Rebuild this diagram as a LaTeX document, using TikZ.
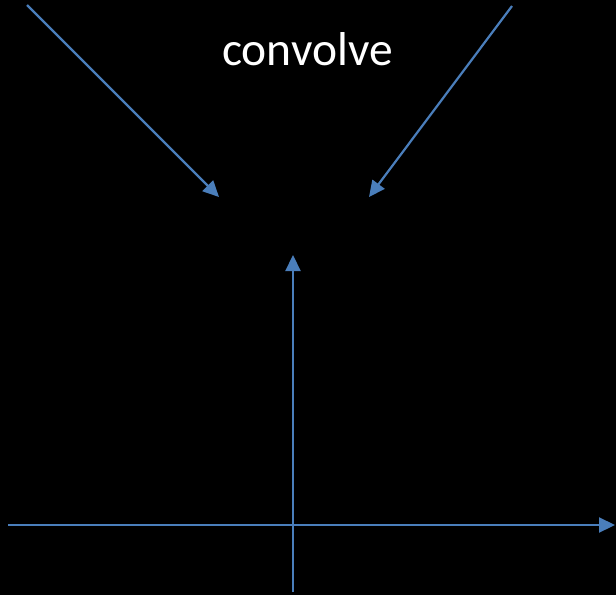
\documentclass[tikz,border=0pt]{standalone}
\usepackage{fontspec}
\setmainfont{Carlito}
\usetikzlibrary{arrows.meta}
\definecolor{obl}{HTML}{4A7EBB}
\tikzset{
  conn/.style={draw=obl, line width=2.2pt, -{Triangle[length=16pt,width=15pt]}}
}
\begin{document}
\begin{tikzpicture}[x=1pt,y=-1pt]
\fill[black] (0,0) rectangle (616,595);
\useasboundingbox (0,0) rectangle (616,595);
\node[text=white, font=\fontsize{47.5}{50}\selectfont, anchor=base] (lbl) at (307.5,65) {convolve};
\coordinate (a1s) at (27,5);
\coordinate (a1e) at (219,197);
\coordinate (a2s) at (512,6);
\coordinate (a2e) at (369,197);
\coordinate (vs) at (293,592);
\coordinate (ve) at (293,255);
\coordinate (hs) at (8,525);
\coordinate (he) at (615,525);
\draw[conn] (a1s) -- (a1e);
\draw[conn] (a2s) -- (a2e);
\draw[conn] (vs) -- (ve);
\draw[conn] (hs) -- (he);
\end{tikzpicture}
\end{document}
